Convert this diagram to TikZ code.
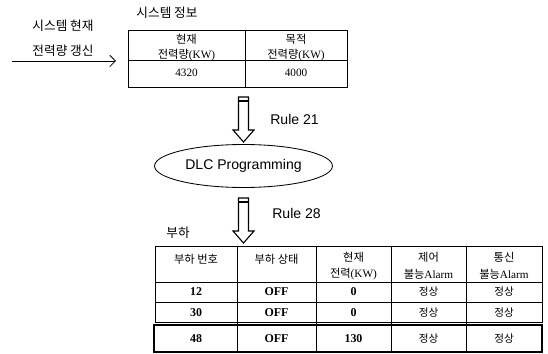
\documentclass[tikz,border=0pt]{standalone}
\usepackage{fontspec}
\setmainfont{Liberation Serif}
\newfontfamily\kr{Noto Sans CJK KR}
\newfontfamily\hv{Liberation Sans}
\usetikzlibrary{shapes.geometric,arrows.meta}

\tikzset{
  krtext/.style={font=\kr\fontsize{9}{10}\selectfont, inner sep=0pt},
  cell/.style={font=\fontsize{8}{12}\selectfont, inner sep=0pt, align=center},
  rulename/.style={font=\hv\fontsize{10}{12}\selectfont, inner sep=0pt},
  downarr/.pic={
    \draw[thick, fill=white] (-5,0) -- (5,0) -- (5,33) -- (10.5,33) -- (0,45)
      -- (-10.5,33) -- (-5,33) -- cycle;
    \draw[thick] (-5,4) -- (5,4);
  }
}

\begin{document}
\begin{tikzpicture}[x=0.025cm, y=-0.025cm]
  \useasboundingbox (0,0) rectangle (548,354);

  % update input
  \node[krtext] (upd1) at (63,26) {시스템 현재};
  \node[krtext] (upd2) at (63,51) {전력량 갱신};
  \coordinate (updS) at (12,61);
  \coordinate (updE) at (116,61);
  \draw[-{Straight Barb[length=4pt,width=8pt]}, semithick] (updS) -- (updE);

  % system info table
  \node[krtext] (sysinfo) at (167,13) {시스템 정보};
  \draw[semithick] (128,30) rectangle (347,87);
  \draw[semithick] (245,30) -- (245,87);
  \draw[semithick] (128,60) -- (347,60);
  \node[cell] (cur1) at (186.5,39) {\kr 현재};
  \node[cell] (cur2) at (186.5,55) {{\kr 전력량}(KW)};
  \node[cell] (curv) at (186.5,73) {4320};
  \node[cell] (tgt1) at (296,39) {\kr 목적};
  \node[cell] (tgt2) at (296,55) {{\kr 전력량}(KW)};
  \node[cell] (tgtv) at (296,73) {4000};

  % rules
  \pic (arrA) at (243.5,97) {downarr};
  \node[rulename, anchor=west] (r21) at (270,119) {Rule 21};
  \node[draw, semithick, ellipse, minimum width=173*0.025cm, minimum height=43*0.025cm,
        font=\hv\fontsize{10}{12}\selectfont] (dlc) at (243.5,166) {DLC Programming};
  \pic (arrB) at (243.5,198) {downarr};
  \node[rulename, anchor=west] (r28) at (272,213) {Rule 28};

  % load table
  \node[krtext] (load) at (178,233) {부하};
  \draw[semithick] (155,246) rectangle (542,322);
  \foreach \x in {237,316,391,466}
    \draw[semithick] (\x,246) -- (\x,352);
  \draw[semithick] (155,282) -- (542,282);
  \draw[semithick] (155,302) -- (542,302);
  \draw[line width=1.6pt] (154,325) rectangle (542,352);

  \node[cell] (h1) at (196,259) {\kr 부하 번호};
  \node[cell] (h2) at (276.5,259) {\kr 부하 상태};
  \node[cell] (h3) at (353.5,266) {{\kr 현재}\\{\kr 전력}(KW)};
  \node[cell] (h4) at (428.5,266) {{\kr 제어}\\{\kr 불능}Alarm};
  \node[cell] (h5) at (504,266) {{\kr 통신}\\{\kr 불능}Alarm};

  \foreach \y/\n/\st/\kw [count=\i] in {292/12/OFF/0, 312.5/30/OFF/0, 338.5/48/OFF/130} {
    \node[cell, font=\bfseries\fontsize{8.5}{10}\selectfont] (r\i c1) at (196,\y) {\n};
    \node[cell, font=\bfseries\fontsize{8.5}{10}\selectfont] (r\i c2) at (276.5,\y) {\st};
    \node[cell, font=\bfseries\fontsize{8.5}{10}\selectfont] (r\i c3) at (353.5,\y) {\kw};
    \node[cell, font=\kr\fontsize{7.5}{10}\selectfont] (r\i c4) at (428.5,\y) {정상};
    \node[cell, font=\kr\fontsize{7.5}{10}\selectfont] (r\i c5) at (504,\y) {정상};
  }
\end{tikzpicture}
\end{document}
